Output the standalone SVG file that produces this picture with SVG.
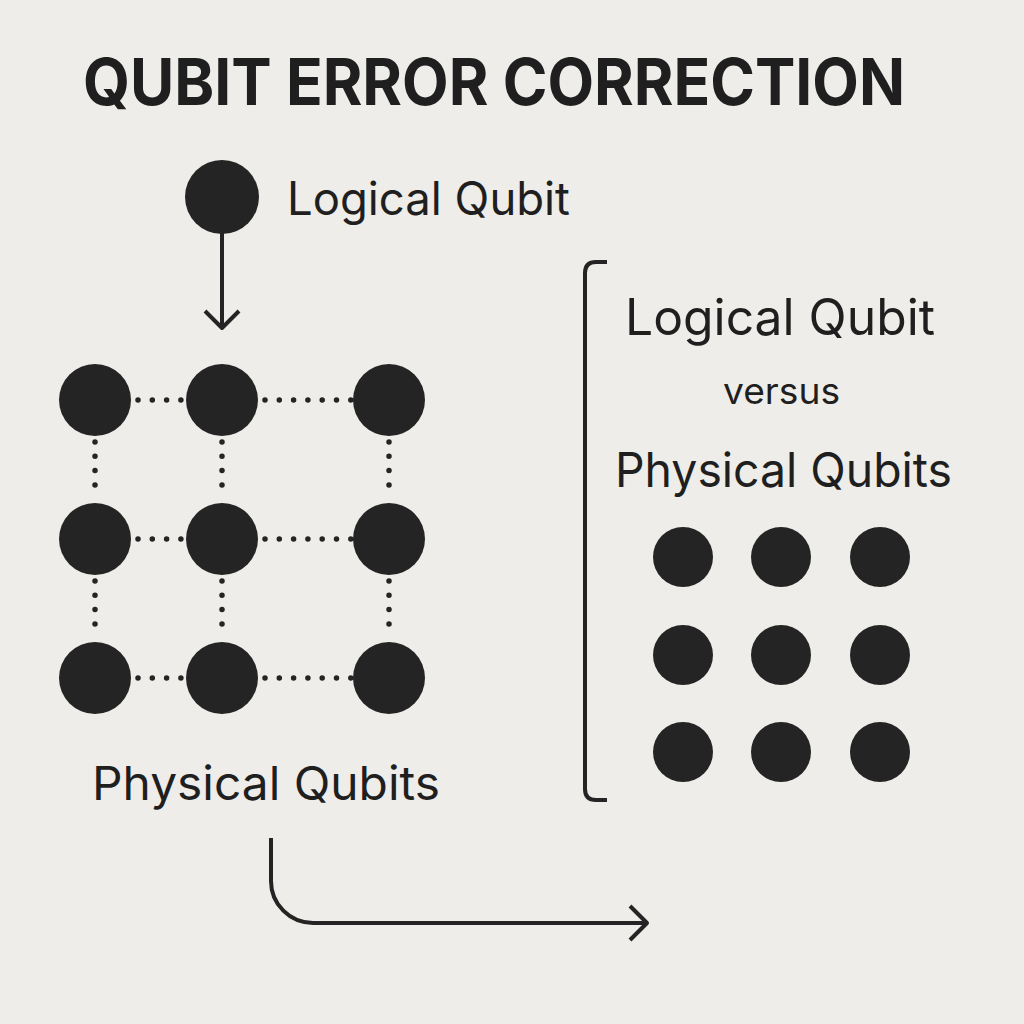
<svg xmlns="http://www.w3.org/2000/svg" width="1024" height="1024" viewBox="0 0 1024 1024">
<defs>
<style>
.bg{fill:#efede9}
.q{fill:#242424}
.t{font-family:Inter,"Noto Sans","Liberation Sans",sans-serif;fill:#1f1f1f}
.title{font-family:Inter,"Noto Sans","Liberation Sans",sans-serif;font-weight:700;fill:#1f1f1f}
.dot{stroke:#242424;stroke-width:5.5;stroke-linecap:round;stroke-dasharray:0 14.3;fill:none}
.ln{stroke:#242424;stroke-width:4;fill:none;stroke-linecap:butt;stroke-linejoin:round}
</style>
</defs>
<rect class="bg" width="1024" height="1024"/>
<text class="title" x="83" y="105" font-size="65" textLength="822" lengthAdjust="spacingAndGlyphs">QUBIT ERROR CORRECTION</text>

<g id="connectors">
<path class="ln" d="M222,233 V327"/>
<path class="ln" d="M205,311 L222,328 L239,311"/>
<line class="dot" x1="138" y1="400" x2="181" y2="400"/>
<line class="dot" x1="265" y1="400" x2="351" y2="400"/>
<line class="dot" x1="138" y1="539" x2="181" y2="539"/>
<line class="dot" x1="265" y1="539" x2="351" y2="539"/>
<line class="dot" x1="138" y1="678" x2="181" y2="678"/>
<line class="dot" x1="265" y1="678" x2="351" y2="678"/>
<line class="dot" x1="95" y1="442" x2="95" y2="499"/>
<line class="dot" x1="222" y1="442" x2="222" y2="499"/>
<line class="dot" x1="389" y1="442" x2="389" y2="499"/>
<line class="dot" x1="95" y1="581" x2="95" y2="638"/>
<line class="dot" x1="222" y1="581" x2="222" y2="638"/>
<line class="dot" x1="389" y1="581" x2="389" y2="638"/>
<path class="ln" d="M271,838 V881 A42,42 0 0 0 313,923 H646"/>
<path class="ln" d="M630,906 L647,923 L630,940"/>
<path class="ln" d="M607,262 H596 Q585,262 585,273 V789 Q585,800 596,800 H607"/>
</g>

<g id="logical-qubit">
<circle class="q" cx="222" cy="197" r="37"/>
<text class="t" x="287" y="215" font-size="46" textLength="283" lengthAdjust="spacingAndGlyphs">Logical Qubit</text>
</g>

<g id="physical-grid">
<circle class="q" cx="95" cy="400" r="36"/>
<circle class="q" cx="222" cy="400" r="36"/>
<circle class="q" cx="389" cy="400" r="36"/>
<circle class="q" cx="95" cy="539" r="36"/>
<circle class="q" cx="222" cy="539" r="36"/>
<circle class="q" cx="389" cy="539" r="36"/>
<circle class="q" cx="95" cy="678" r="36"/>
<circle class="q" cx="222" cy="678" r="36"/>
<circle class="q" cx="389" cy="678" r="36"/>
<text class="t" x="92" y="800" font-size="47" textLength="348" lengthAdjust="spacingAndGlyphs">Physical Qubits</text>
</g>

<g id="comparison">
<text class="t" x="625" y="335" font-size="50" textLength="310" lengthAdjust="spacingAndGlyphs">Logical Qubit</text>
<text class="t" x="723" y="404" font-size="36" textLength="117" lengthAdjust="spacingAndGlyphs">versus</text>
<text class="t" x="615" y="487" font-size="48" textLength="337" lengthAdjust="spacingAndGlyphs">Physical Qubits</text>
<circle class="q" cx="683" cy="557" r="30"/>
<circle class="q" cx="781" cy="557" r="30"/>
<circle class="q" cx="880" cy="557" r="30"/>
<circle class="q" cx="683" cy="655" r="30"/>
<circle class="q" cx="781" cy="655" r="30"/>
<circle class="q" cx="880" cy="655" r="30"/>
<circle class="q" cx="683" cy="752" r="30"/>
<circle class="q" cx="781" cy="752" r="30"/>
<circle class="q" cx="880" cy="752" r="30"/>
</g>
</svg>
